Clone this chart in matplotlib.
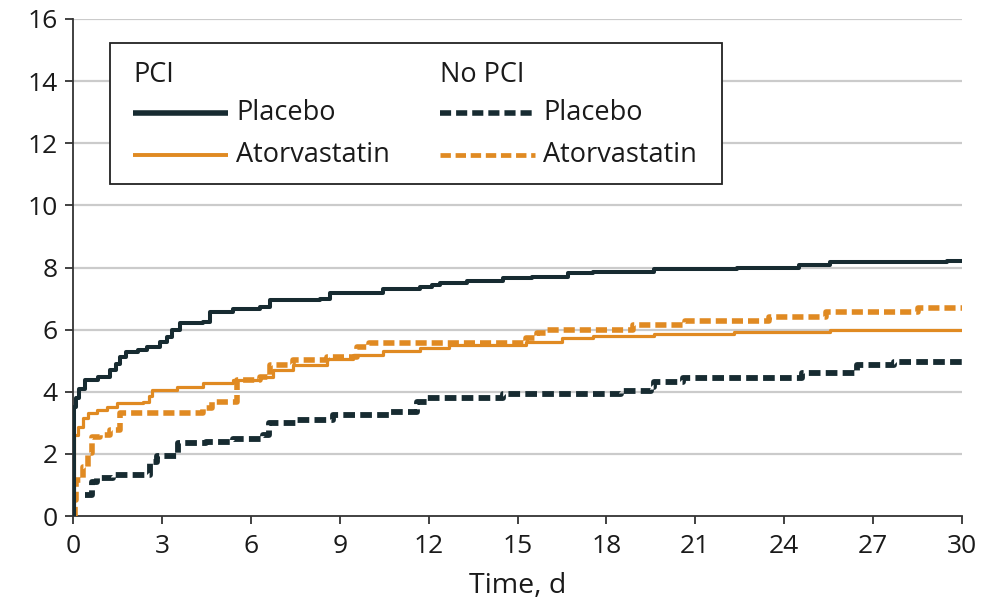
import matplotlib
matplotlib.use("Agg")
import matplotlib.pyplot as plt
from matplotlib.lines import Line2D

plt.rcParams["font.family"] = ["Open Sans", "DejaVu Sans"]

# Cumulative incidence (%) by day, step functions
pci_placebo_t = [0, 0.02, 0.1, 0.2, 0.4, 0.85, 1.25, 1.45, 1.6, 1.8, 2.2, 2.5, 2.94, 3.16,
                 3.35, 3.6, 4.4, 4.62, 5.4, 6.3, 6.65, 8.34, 8.67, 10.46, 11.7, 12.1, 12.4,
                 13.3, 14.5, 15.5, 16.7, 17.55, 19.6, 22.4, 24.5, 25.55, 29.5, 30]
pci_placebo_y = [0, 3.5, 3.8, 4.1, 4.38, 4.48, 4.7, 4.9, 5.13, 5.29, 5.35, 5.45, 5.61, 5.77,
                 6.0, 6.2, 6.25, 6.58, 6.68, 6.74, 6.95, 7.0, 7.17, 7.3, 7.36, 7.45, 7.5,
                 7.57, 7.65, 7.71, 7.81, 7.87, 7.94, 8.0, 8.08, 8.17, 8.22, 8.22]

pci_atorva_t = [0, 0.05, 0.17, 0.35, 0.5, 0.8, 1.14, 1.47, 2.36, 2.55, 2.66, 3.5, 4.4, 5.4,
                6.3, 6.75, 7.43, 8.56, 9.45, 10.46, 11.7, 12.7, 15.3, 16.5, 17.55, 19.6,
                22.3, 25.55, 30]
pci_atorva_y = [0, 2.6, 2.88, 3.15, 3.3, 3.41, 3.52, 3.63, 3.68, 3.85, 4.06, 4.16, 4.27, 4.38,
                4.48, 4.7, 4.86, 5.07, 5.18, 5.32, 5.4, 5.5, 5.61, 5.72, 5.8, 5.86,
                5.93, 6.0, 6.0]

nopci_placebo_t = [0.4, 0.63, 0.8, 1.35, 2.6, 2.82, 3.55, 4.5, 5.4, 6.4, 6.6, 7.55, 8.78,
                   10.7, 11.6, 11.94, 14.5, 18.5, 19.5, 19.6, 20.6, 24.6, 26.45, 27.7, 30]
nopci_placebo_y = [0.68, 1.1, 1.21, 1.32, 1.75, 1.93, 2.34, 2.39, 2.47, 2.61, 2.98, 3.09, 3.25,
                   3.36, 3.68, 3.79, 3.93, 4.03, 4.16, 4.32, 4.43, 4.59, 4.86, 4.97, 4.97]

nopci_atorva_t = [0, 0.07, 0.1, 0.35, 0.51, 0.63, 0.91, 1.25, 1.59, 4.4, 4.7, 5.52, 6.3,
                  6.65, 7.43, 8.56, 9.6, 10.0, 15.3, 15.65, 16.0, 18.9, 20.65, 23.5, 25.4,
                  28.5, 30]
nopci_atorva_y = [0, 0.5, 1.16, 1.59, 2.03, 2.55, 2.6, 2.77, 3.3, 3.47, 3.68, 4.38, 4.49,
                  4.86, 5.02, 5.13, 5.45, 5.56, 5.72, 5.88, 5.99, 6.15, 6.28, 6.4, 6.58,
                  6.71, 6.71]

x_ticks = [0, 3, 6, 9, 12, 15, 18, 21, 24, 27, 30]
y_ticks = [0, 2, 4, 6, 8, 10, 12, 14, 16]

DARK = "#172b31"
ORANGE = "#e08a22"
GRID = "#cbcbcb"
SPINE = "#333333"

W, H = 1004, 614
fig = plt.figure(figsize=(W / 100, H / 100), dpi=100)
ax = fig.add_axes([73 / W, 1 - 516 / H, (962 - 73) / W, (516 - 19) / H])

for yv in y_ticks[1:]:
    ax.axhline(yv, color=GRID, lw=1.6, zorder=0)

ax.plot(nopci_placebo_t, nopci_placebo_y, drawstyle="steps-post", color=DARK,
        lw=4.2, dashes=(2.0, 0.9), solid_capstyle="butt", zorder=3)
ax.plot(nopci_atorva_t, nopci_atorva_y, drawstyle="steps-post", color=ORANGE,
        lw=4.0, dashes=(2.0, 0.9), solid_capstyle="butt", zorder=3)
ax.plot(pci_atorva_t, pci_atorva_y, drawstyle="steps-post", color=ORANGE,
        lw=2.3, zorder=4)
ax.plot(pci_placebo_t, pci_placebo_y, drawstyle="steps-post", color=DARK,
        lw=2.9, zorder=4)

ax.set_xlim(0, 30)
ax.set_ylim(0, 16)
ax.set_xticks(x_ticks)
ax.set_yticks(y_ticks)
ax.tick_params(axis="both", direction="out", length=6, width=1.3, color=SPINE,
               labelsize=19, labelcolor="#1a1a1a")
ax.tick_params(axis="x", pad=7)
ax.tick_params(axis="y", pad=5)
for side in ("top", "right"):
    ax.spines[side].set_visible(False)
for side in ("left", "bottom"):
    ax.spines[side].set_color(SPINE)
    ax.spines[side].set_linewidth(1.3)
ax.set_xlabel("Time, d", fontsize=20.5, color="#1a1a1a", labelpad=9)

# Two-column legend box
def fx(px):
    return px / W

def fy(py):
    return 1 - py / H

box = plt.Rectangle((fx(110), fy(184)), fx(722) - fx(110), fy(43) - fy(184),
                    transform=fig.transFigure, facecolor="white", edgecolor="#222222",
                    lw=1.3, zorder=10)
fig.add_artist(box)

txt = dict(transform=fig.transFigure, fontsize=19.5, color="#1a1a1a", va="center",
           ha="left", zorder=11)
fig.text(fx(133), fy(75), "PCI", **txt)
fig.text(fx(440), fy(75), "No PCI", **txt)

rows = [113, 155]
entries = [
    (133, rows[0], DARK, 4.0, None, "Placebo"),
    (133, rows[1], ORANGE, 2.8, None, "Atorvastatin"),
    (440, rows[0], DARK, 4.0, (2.0, 0.9), "Placebo"),
    (440, rows[1], ORANGE, 3.4, (2.2, 1.0), "Atorvastatin"),
]
for x0, yy, col, lw, dash, label in entries:
    ln = Line2D([fx(x0), fx(x0 + 95)], [fy(yy), fy(yy)], transform=fig.transFigure,
                color=col, lw=lw, solid_capstyle="butt", zorder=11)
    if dash is not None:
        ln.set_dashes(dash)
    fig.add_artist(ln)
    fig.text(fx(x0 + 103), fy(yy), label, **txt)

fig.savefig("out.png", dpi=100, facecolor="white")
